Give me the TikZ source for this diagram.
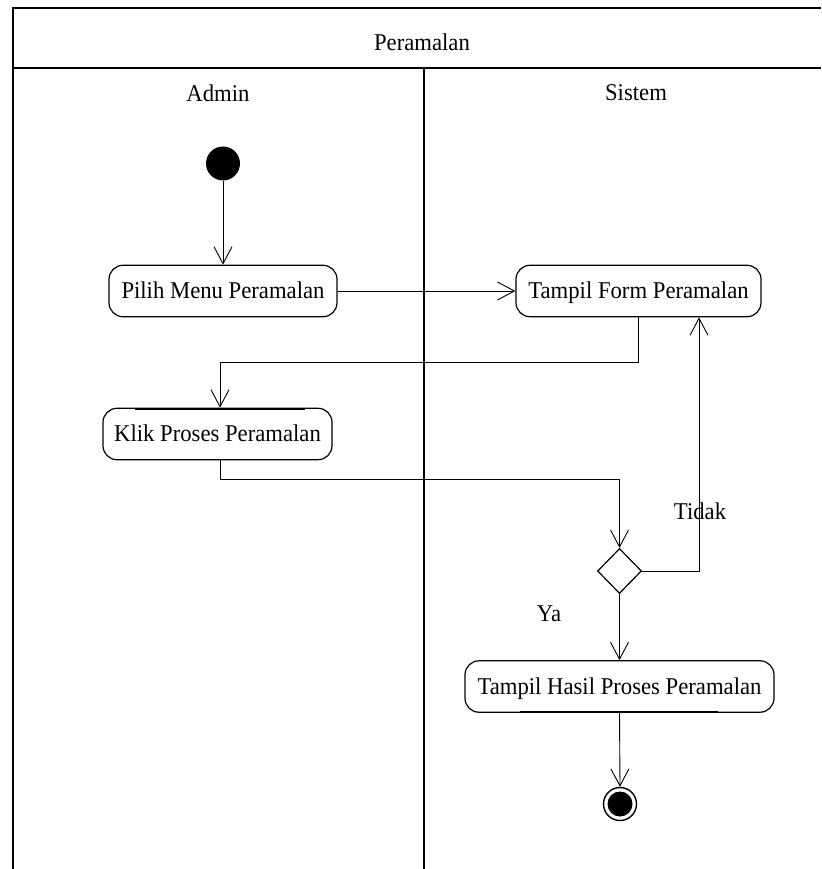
\documentclass[tikz,border=0pt]{standalone}
\usepackage{fontspec}
\setmainfont{Liberation Serif}
\usetikzlibrary{arrows.meta,shapes.geometric}
\begin{document}
\begin{tikzpicture}[x=1pt,y=-1pt,
  txt/.style={font=\fontsize{22.7}{26}\selectfont,yscale=1.06},
  lane/.style={line width=1.5pt},
  action/.style={draw,line width=1.2pt,rounded corners=14pt,txt,minimum height=48.5pt,
    inner sep=0pt,text depth=1pt},
  flow/.style={line width=0.9pt,-{Straight Barb[length=17pt,width=18pt]}},
  decision/.style={draw,diamond,line width=1.2pt,minimum width=44pt,minimum height=45pt,inner sep=0pt},
  startnode/.style={circle,fill=black,minimum size=34pt,inner sep=0pt},
  endnode/.style={circle,draw,line width=1.4pt,minimum size=33pt,inner sep=0pt,
    path picture={\fill[black] (path picture bounding box.center) circle (12.5pt);}}]
\useasboundingbox (0,0) rectangle (821,869);
\fill[white] (0,0) rectangle (821,869);

% swimlane frame
\draw[lane] (821,8) -- (13,8) -- (13,869);
\draw[lane] (13,68) -- (821,68);
\draw[lane] (424,68) -- (424,869);
\node[txt] (title) at (422,42) {Peramalan};
\node[txt] (laneA) at (218,93) {Admin};
\node[txt] (laneS) at (636,93) {Sistem};

% activity nodes
\node[startnode] (start) at (223,163.5) {};
\node[action,minimum width=228pt] (pilih) at (223,291) {Pilih Menu Peramalan};
\node[action,minimum width=245pt] (form) at (638.5,291) {Tampil Form Peramalan};
\node[action,minimum width=229pt] (klik) at (217.5,434) {Klik Proses Peramalan};
\node[decision] (dec) at (619.5,571) {};
\node[action,minimum width=309pt] (hasil) at (619.5,686.5) {Tampil Hasil Proses Peramalan};
\node[endnode] (end) at (620,804) {};

% heavier edge segments on two of the boxes
\draw[line width=1.9pt] (135,408.8) -- (305,408.8);
\draw[line width=1.9pt] (520,712.2) -- (718,712.2);

% bend points
\coordinate (c1) at (638,362);
\coordinate (c2) at (220,362);
\coordinate (c3) at (220,479);
\coordinate (c4) at (619.5,479);
\coordinate (c5) at (699,571);

% connectors
\draw[flow] (start) -- (pilih.north -| start);
\draw[flow] (pilih.east) -- (form.west);
\draw[flow] (form.south -| c1) -- (c1) -- (c2) -- (klik.north -| c2);
\draw[flow] (klik.south -| c3) -- (c3) -- (c4) -- (dec.north);
\draw[flow] (dec.east) -- (c5) -- (form.south -| c5);
\draw[flow] (dec.south) -- (hasil.north);
\draw[flow] (hasil.south) -- (end.north);

% guard labels
\node[txt] (tidak) at (700,511) {Tidak};
\node[txt] (ya) at (549,614) {Ya};
\end{tikzpicture}
\end{document}
